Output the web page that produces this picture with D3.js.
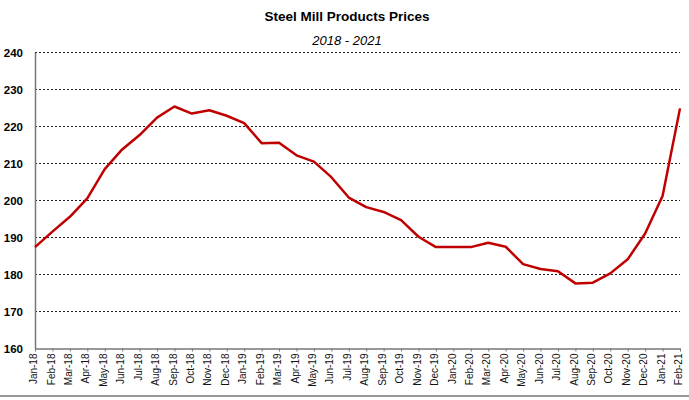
<!DOCTYPE html>
<html>
<head>
<meta charset="utf-8">
<script src="https://cdnjs.cloudflare.com/ajax/libs/d3/7.8.5/d3.min.js"></script>
<style>
  body { margin: 0; background: #fff; }
  text { font-family: "Liberation Sans", Arial, sans-serif; }
</style>
</head>
<body>
<div id="chart"></div>
<script>
// month labels and index values
var months = ["Jan-18","Feb-18","Mar-18","Apr-18","May-18","Jun-18","Jul-18","Aug-18","Sep-18","Oct-18","Nov-18","Dec-18",
  "Jan-19","Feb-19","Mar-19","Apr-19","May-19","Jun-19","Jul-19","Aug-19","Sep-19","Oct-19","Nov-19","Dec-19",
  "Jan-20","Feb-20","Mar-20","Apr-20","May-20","Jun-20","Jul-20","Aug-20","Sep-20","Oct-20","Nov-20","Dec-20",
  "Jan-21","Feb-21"];
var prices = [187.4, 191.6, 195.6, 200.6, 208.5, 213.8, 217.7, 222.4, 225.4, 223.5, 224.4, 222.9,
  220.9, 215.5, 215.6, 212.2, 210.5, 206.3, 200.8, 198.2, 196.9, 194.7, 190.2, 187.4,
  187.4, 187.4, 188.6, 187.5, 182.8, 181.5, 180.9, 177.6, 177.8, 180.3, 184.1, 191.1,
  201.2, 224.9];
var yTicks = [160, 170, 180, 190, 200, 210, 220, 230, 240];

var W = 689, H = 400;
var margin = { top: 52.5, right: 9, bottom: 51.5, left: 35 },
  width = W - margin.left - margin.right,
  height = H - margin.top - margin.bottom;

var root = d3.select("#chart").append("svg")
  .attr("width", W)
  .attr("height", H);

// title
root.append("text")
  .attr("x", 347).attr("y", 21)
  .attr("text-anchor", "middle")
  .attr("font-size", "13.5px")
  .attr("font-weight", "bold")
  .attr("fill", "#000")
  .text("Steel Mill Products Prices");
root.append("text")
  .attr("x", 347).attr("y", 45)
  .attr("text-anchor", "middle")
  .attr("font-size", "13px")
  .attr("font-style", "italic")
  .attr("fill", "#000")
  .text("2018 - 2021");

// bottom frame line
root.append("line")
  .attr("x1", 0).attr("x2", W)
  .attr("y1", 396).attr("y2", 396)
  .attr("stroke", "#999").attr("stroke-width", 2);

var svg = root.append("g")
  .attr("transform", "translate(" + margin.left + "," + margin.top + ")");

var x = d3.scalePoint().domain(months).range([0, 645]);
var y = d3.scaleLinear().domain([160, 240]).range([height, 0]);

// dashed gridlines
svg.append("g")
  .selectAll("line")
  .data(yTicks.slice(1))
  .enter()
  .append("line")
  .attr("x1", 0)
  .attr("x2", width)
  .attr("y1", function (d) { return y(d); })
  .attr("y2", function (d) { return y(d); })
  .attr("stroke", "#222")
  .attr("stroke-width", 1)
  .attr("stroke-dasharray", "2,2");

// Y axis
var yAxis = svg.append("g")
  .call(d3.axisLeft(y).tickValues(yTicks).tickSize(0).tickPadding(12));
yAxis.select(".domain").attr("stroke", "#777").attr("stroke-width", 1.5);
yAxis.selectAll("text")
  .attr("font-size", "11.5px")
  .attr("font-weight", "bold")
  .attr("fill", "#000")
  .attr("font-family", "'Liberation Sans', Arial, sans-serif");

// X axis
var xAxis = svg.append("g")
  .attr("transform", "translate(0," + height + ")")
  .call(d3.axisBottom(x).tickSize(3).tickSizeOuter(0));
xAxis.select(".domain").attr("stroke", "#777").attr("stroke-width", 1.5);
xAxis.selectAll(".tick line").attr("stroke", "#777");
xAxis.selectAll("text")
  .attr("font-size", "10px")
  .attr("fill", "#111")
  .attr("font-family", "'Liberation Sans', Arial, sans-serif")
  .attr("text-anchor", "end")
  .attr("transform", "rotate(-90)")
  .attr("dx", "-5px")
  .attr("dy", "-0.1em")
  .attr("y", 0)
  .attr("x", 0)
  .style("dominant-baseline", "middle");

// price line
var line = d3.line()
  .x(function (d, i) { return x(months[i]); })
  .y(function (d) { return y(d); });

svg.append("path")
  .datum(prices)
  .attr("fill", "none")
  .attr("stroke", "#c00000")
  .attr("stroke-width", 2.5)
  .attr("stroke-linejoin", "round")
  .attr("d", line);
</script>
</body>
</html>
